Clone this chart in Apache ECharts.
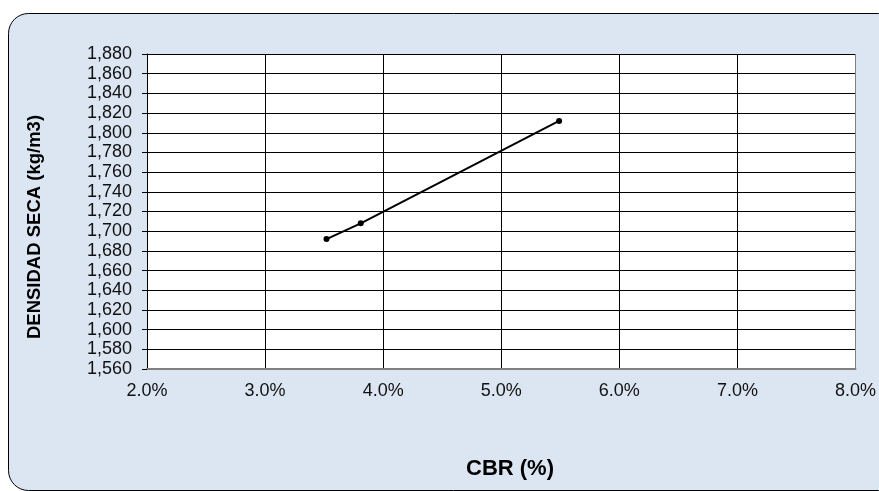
<!DOCTYPE html>
<html>
<head>
<meta charset="utf-8">
<script src="https://cdn.jsdelivr.net/npm/echarts@6/dist/echarts.min.js"></script>
<style>
html,body{margin:0;padding:0;background:#fff;}
#chart{width:879px;height:491px;}
</style>
</head>
<body>
<div id="chart"></div>
<script>
// Data (CBR in percent, dry density in kg/m3)
const cbrPercent = [3.52, 3.81, 5.49];
const densidadSeca = [1692, 1708, 1812];
const xAxisTitle = 'CBR (%)';
const yAxisTitle = 'DENSIDAD SECA (kg/m3)';

const FONT = '"Liberation Sans", Arial, sans-serif';
const chart = echarts.init(document.getElementById('chart'), null, {renderer: 'canvas'});

const points = cbrPercent.map((x, i) => [x, densidadSeca[i]]);

const xSplitColors = ['#000', '#000', '#000', '#000', '#000', '#000', '#808080'];
const ySplitColors = ['#808080'];
for (let i = 0; i < 16; i++) ySplitColors.push('#000');

chart.setOption({
  animation: false,
  backgroundColor: 'transparent',
  graphic: [
    {
      type: 'rect', z: -10, silent: true,
      shape: {x: 8.5, y: 13.5, width: 890, height: 477, r: 20},
      style: {fill: '#dce6f2', stroke: '#000', lineWidth: 1}
    },
    {
      type: 'text', z: 10, silent: true,
      x: 510, y: 469,
      style: {text: xAxisTitle, font: 'bold 22px ' + FONT, fill: '#000', align: 'center', verticalAlign: 'middle'}
    },
    {
      type: 'text', z: 10, silent: true,
      x: 35, y: 227, rotation: Math.PI / 2,
      style: {text: yAxisTitle, font: 'bold 18.5px ' + FONT, fill: '#000', align: 'center', verticalAlign: 'middle'}
    }
  ],
  grid: {
    left: 147, right: 22, top: 54, bottom: 122,
    show: true, backgroundColor: '#fff', borderWidth: 0
  },
  xAxis: {
    type: 'value', min: 2, max: 8, interval: 1,
    axisLine: {show: true, onZero: false, lineStyle: {color: '#808080', width: 2}},
    axisTick: {show: false},
    axisLabel: {
      margin: 13, fontSize: 18, fontFamily: FONT, color: '#111',
      formatter: v => v.toFixed(1) + '%'
    },
    splitLine: {show: true, lineStyle: {color: xSplitColors, width: 1}}
  },
  yAxis: {
    type: 'value', min: 1560, max: 1880, interval: 20,
    axisLine: {show: true, onZero: false, lineStyle: {color: '#000', width: 1}},
    axisTick: {show: true, length: 5, lineStyle: {color: '#000'}},
    axisLabel: {
      margin: 15, fontSize: 18, fontFamily: FONT, color: '#111',
      formatter: v => v.toLocaleString('en-US')
    },
    splitLine: {show: true, lineStyle: {color: ySplitColors, width: 1}}
  },
  series: [{
    type: 'line',
    data: points,
    symbol: 'circle',
    symbolSize: 6,
    lineStyle: {color: '#000', width: 2},
    itemStyle: {color: '#000'}
  }]
});
</script>
</body>
</html>
